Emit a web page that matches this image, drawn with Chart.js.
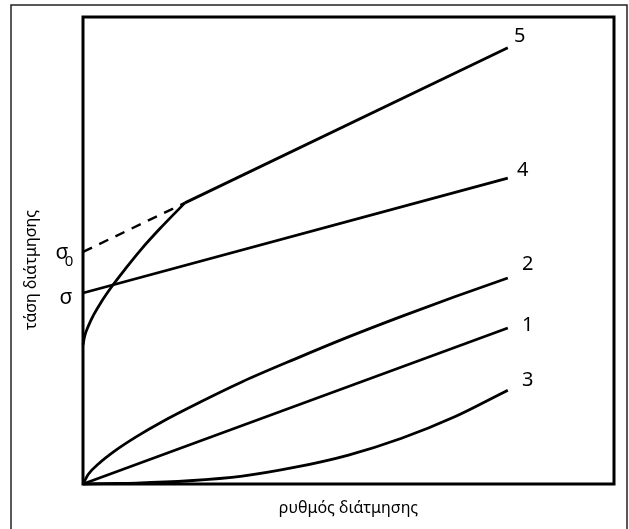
<!DOCTYPE html>
<html>
<head>
<meta charset="utf-8">
<script src="https://cdn.jsdelivr.net/npm/chart.js@4.4.1/dist/chart.umd.min.js"></script>
<style>
  html, body { margin: 0; padding: 0; background: #fff; }
  #wrap { width: 629px; height: 529px; }
</style>
</head>
<body>
<div id="wrap"><canvas id="grafico" width="629" height="529"></canvas></div>
<script>
// ejes sin escala: unidades arbitrarias 0..100
const curva1X = [0, 80];
const curva1Y = [0, 33.4];

const curva2X = [0, 1, 3, 6, 10, 15, 22, 30, 40, 50, 60, 70, 80];
const curva2Y = [0, 2.1, 4.4, 7.1, 10.1, 13.4, 17.5, 21.9, 26.8, 31.5, 35.9, 40.1, 44.1];

const curva3X = [0, 4, 10, 20, 30, 40, 50, 60, 70, 80];
const curva3Y = [0, 0.1, 0.2, 0.7, 1.7, 3.6, 6.2, 9.8, 14.4, 20.1];

const curva4X = [0, 80];
const curva4Y = [40.9, 65.5];

// curva 5: tramo curvo hasta el punto de quiebre, luego recta
const curva5X = [0, 0.3, 1, 2, 3.5, 5.5, 8, 11, 14.5, 19.2];
const curva5Y = [29.8, 31.6, 33.8, 36.2, 39.1, 42.4, 46.1, 50.3, 54.7, 60.2];
const recta5X = [19.2, 80];
const recta5Y = [60.2, 93.4];

// prolongación a trazos de la recta 5 hasta el eje (σ0)
const extrapX = [0, 19.2];
const extrapY = [49.7, 60.2];

const etiquetasCurvas = ['1', '2', '3', '4', '5'];
const tituloX = 'ρυθμός διάτμησης';
const tituloY = 'τάση διάτμησης';

const puntos = (xs, ys) => xs.map((x, i) => ({ x: x, y: ys[i] }));

const linea = (xs, ys, extra) => Object.assign({
    data: puntos(xs, ys),
    showLine: true,
    borderColor: '#000',
    borderWidth: 2.8,
    pointRadius: 0,
    cubicInterpolationMode: 'monotone',
    clip: 4
}, extra || {});

// desplazamiento en px de cada número respecto al final de su curva
const offsetEtiqueta = { '1': [20, -3], '2': [20, -14], '3': [20, -10], '4': [15, -8], '5': [12, -12] };

const marcoPlugin = {
    id: 'marco',
    afterDraw(chart) {
        const ctx = chart.ctx;
        const a = chart.chartArea;
        const sx = chart.scales.x, sy = chart.scales.y;
        ctx.save();
        // marco exterior
        ctx.strokeStyle = '#222';
        ctx.lineWidth = 1.5;
        ctx.strokeRect(11, 5, 616, 530);
        // caja del grafico
        ctx.strokeStyle = '#000';
        ctx.lineWidth = 3;
        ctx.strokeRect(a.left, a.top, a.right - a.left, a.bottom - a.top);

        ctx.fillStyle = '#000';
        ctx.textAlign = 'center';
        ctx.textBaseline = 'middle';
        ctx.font = '20px "Noto Sans"';
        chart.data.datasets.forEach(ds => {
            if (!ds.etiqueta) return;
            const ult = ds.data[ds.data.length - 1];
            const off = offsetEtiqueta[ds.etiqueta];
            ctx.fillText(ds.etiqueta, sx.getPixelForValue(ult.x) + off[0], sy.getPixelForValue(ult.y) + off[1]);
        });

        // sigma y sigma0 en el eje
        const y4 = sy.getPixelForValue(curva4Y[0]);
        const y0 = sy.getPixelForValue(extrapY[0]);
        ctx.font = '21px "Noto Sans"';
        ctx.fillText('σ', a.left - 17, y4 + 5);
        ctx.fillText('σ', a.left - 21, y0 + 1);
        ctx.font = '15px "Noto Sans"';
        ctx.fillText('0', a.left - 14, y0 + 10);

        // titulos de ejes
        ctx.font = '16px "Noto Sans"';
        ctx.fillText(tituloX, (a.left + a.right) / 2, 508);
        ctx.translate(31, 270);
        ctx.rotate(-Math.PI / 2);
        ctx.fillText(tituloY, 0, 0);
        ctx.restore();
    }
};

new Chart(document.getElementById('grafico'), {
    type: 'scatter',
    data: {
        datasets: [
            linea(curva1X, curva1Y, { etiqueta: etiquetasCurvas[0] }),
            linea(curva2X, curva2Y, { etiqueta: etiquetasCurvas[1] }),
            linea(curva3X, curva3Y, { etiqueta: etiquetasCurvas[2] }),
            linea(curva4X, curva4Y, { etiqueta: etiquetasCurvas[3] }),
            linea(curva5X, curva5Y),
            linea(recta5X, recta5Y, { etiqueta: etiquetasCurvas[4] }),
            linea(extrapX, extrapY, { borderDash: [10, 8], borderWidth: 2.4 })
        ]
    },
    options: {
        responsive: false,
        animation: false,
        layout: { padding: { left: 83, right: 15, top: 17, bottom: 45 } },
        plugins: { legend: { display: false }, tooltip: { enabled: false } },
        scales: {
            x: { type: 'linear', min: 0, max: 100, display: false },
            y: { type: 'linear', min: 0, max: 100, display: false }
        }
    },
    plugins: [marcoPlugin]
});
</script>
</body>
</html>
